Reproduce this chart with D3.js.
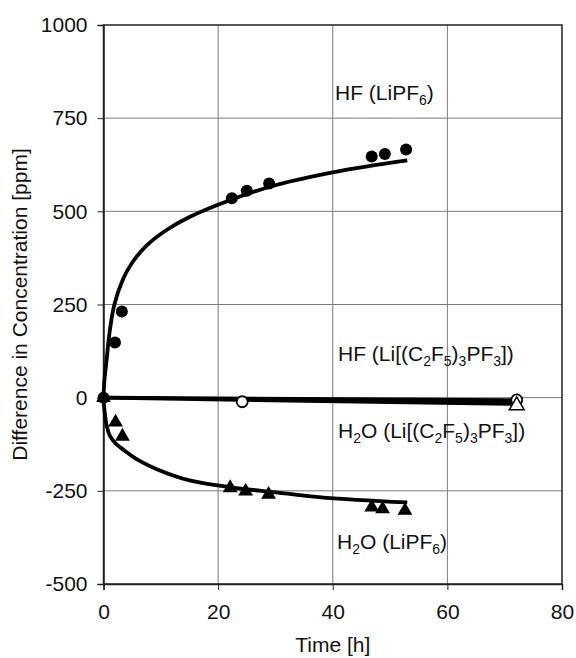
<!DOCTYPE html>
<meta charset="utf-8">
<style>
  body { margin: 0; background: #fff; }
  text { font-family: "Liberation Sans", Arial, sans-serif; fill: #111; }
</style>
<body>
<div id="chart"></div>
<script src="https://d3js.org/d3.v7.min.js"></script>
<script>
// measured points
const hfLiPF6T = [0, 2.0, 3.2, 22.4, 25.0, 28.9, 46.8, 49.1, 52.8];
const hfLiPF6V = [0, 148, 231, 535, 555, 575, 647, 654, 666];
const h2oLiPF6T = [0, 2.1, 3.3, 22.1, 24.8, 28.8, 46.8, 48.7, 52.6];
const h2oLiPF6V = [0, -66, -104, -242, -251, -260, -294, -299, -303];
const hfFapT = [0, 24.2, 72.1];
const hfFapV = [0, -11, -6];
const h2oFapT = [0, 72.1];
const h2oFapV = [0, -21];

// fitted curves
const hfFitT = [0, 0.15, 0.5, 1.1, 1.9, 3.4, 5, 7.5, 11, 15, 22.4, 30, 43, 53];
const hfFitV = [0, 45, 95, 180, 250, 318, 362, 408, 450, 485, 532, 570, 613, 637];
const h2oFitT = [0, 0.25, 0.6, 1.1, 2, 3.5, 6, 9.3, 15, 22, 30, 38.4, 53];
const h2oFitV = [0, -45, -78, -102, -121, -140, -167, -192, -222, -240, -254, -268, -281];
const hfFapFitT = [0, 72];
const hfFapFitV = [0, -7];
const h2oFapFitT = [0, 72];
const h2oFapFitV = [0, -17];

const xTicks = [0, 20, 40, 60, 80];
const yTicks = [-500, -250, 0, 250, 500, 750, 1000];

const W = 576, H = 658;
const m = {top: 25, right: 14, bottom: 74, left: 103.5};
const w = W - m.left - m.right, h = H - m.top - m.bottom;
const FS = "21px";

const svg = d3.select("#chart").append("svg").attr("width", W).attr("height", H);
const g = svg.append("g").attr("transform", `translate(${m.left},${m.top})`);

const x = d3.scaleLinear().domain([0, 80]).range([0, w]);
const y = d3.scaleLinear().domain([-500, 1000]).range([h, 0]);

// grid
g.selectAll(".gx").data(xTicks.slice(1, -1)).enter().append("line")
  .attr("x1", d => x(d)).attr("x2", d => x(d)).attr("y1", 0).attr("y2", h)
  .attr("stroke", "#7a7a7a").attr("stroke-width", 1);
g.selectAll(".gy").data(yTicks.slice(1, -1)).enter().append("line")
  .attr("x1", 0).attr("x2", w).attr("y1", d => y(d)).attr("y2", d => y(d))
  .attr("stroke", "#7a7a7a").attr("stroke-width", 1);

// frame
g.append("rect").attr("width", w).attr("height", h)
  .attr("fill", "none").attr("stroke", "#222").attr("stroke-width", 1.5);

const xAxis = g.append("g").attr("transform", `translate(0,${h})`)
  .call(d3.axisBottom(x).tickValues(xTicks).tickFormat(d => String(d)).tickSize(6).tickPadding(14));
const yAxis = g.append("g")
  .call(d3.axisLeft(y).tickValues(yTicks).tickFormat(d => String(d)).tickSize(6).tickPadding(10));
[xAxis, yAxis].forEach(a => {
  a.select(".domain").attr("stroke", "#222").attr("stroke-width", 1.5);
  a.selectAll(".tick line").attr("stroke", "#222");
  a.selectAll("text").style("font-size", FS).attr("fill", "#111")
    .style("font-family", '"Liberation Sans", Arial, sans-serif');
});

svg.append("text").attr("x", m.left + w / 2).attr("y", 652)
  .attr("text-anchor", "middle").style("font-size", FS).text("Time [h]");
svg.append("text").attr("transform", `translate(27,${m.top + h / 2}) rotate(-90)`)
  .attr("text-anchor", "middle").style("font-size", FS)
  .text("Difference in Concentration [ppm]");

// fit lines
const line = d3.line().x(d => x(d[0])).y(d => y(d[1])).curve(d3.curveCatmullRom.alpha(0.5));
const zip = (a, b) => a.map((v, i) => [v, b[i]]);
[[hfFitT, hfFitV], [h2oFitT, h2oFitV], [hfFapFitT, hfFapFitV], [h2oFapFitT, h2oFapFitV]]
  .forEach(([t, v]) => {
    g.append("path").datum(zip(t, v)).attr("d", line)
      .attr("fill", "none").attr("stroke", "#000").attr("stroke-width", 3.8);
  });

// markers
const tri = d3.symbol().type(d3.symbolTriangle).size(95);
g.selectAll(".hf").data(zip(hfLiPF6T, hfLiPF6V)).enter().append("circle")
  .attr("cx", d => x(d[0])).attr("cy", d => y(d[1])).attr("r", 6).attr("fill", "#000");
g.selectAll(".h2o").data(zip(h2oLiPF6T, h2oLiPF6V)).enter().append("path")
  .attr("d", tri).attr("transform", d => `translate(${x(d[0])},${y(d[1])})`).attr("fill", "#000");
g.selectAll(".hffap").data(zip(hfFapT, hfFapV).slice(1)).enter().append("circle")
  .attr("cx", d => x(d[0])).attr("cy", d => y(d[1])).attr("r", 5.5)
  .attr("fill", "#fff").attr("stroke", "#000").attr("stroke-width", 1.8);
g.selectAll(".h2ofap").data(zip(h2oFapT, h2oFapV).slice(1)).enter().append("path")
  .attr("d", tri).attr("transform", d => `translate(${x(d[0])},${y(d[1])})`)
  .attr("fill", "#fff").attr("stroke", "#000").attr("stroke-width", 1.5);

// series labels: [text, isSubscript]
const labels = [
  {x: 335, y: 100, parts: [["HF (LiPF", 0], ["6", 1], [")", 0]]},
  {x: 338, y: 361, parts: [["HF (Li[(C", 0], ["2", 1], ["F", 0], ["5", 1], [")", 0], ["3", 1], ["PF", 0], ["3", 1], ["])", 0]]},
  {x: 338, y: 438, parts: [["H", 0], ["2", 1], ["O (Li[(C", 0], ["2", 1], ["F", 0], ["5", 1], [")", 0], ["3", 1], ["PF", 0], ["3", 1], ["])", 0]]},
  {x: 337, y: 549, parts: [["H", 0], ["2", 1], ["O (LiPF", 0], ["6", 1], [")", 0]]}
];
labels.forEach(l => {
  const t = svg.append("text").attr("x", l.x).attr("y", l.y).style("font-size", FS);
  let prevSub = 0;
  l.parts.forEach(([s, sub]) => {
    const dy = sub === prevSub ? 0 : (sub ? 5 : -5);
    t.append("tspan").attr("dy", dy).style("font-size", sub ? "14px" : FS).text(s);
    prevSub = sub;
  });
});
</script>
</body>
</html>
